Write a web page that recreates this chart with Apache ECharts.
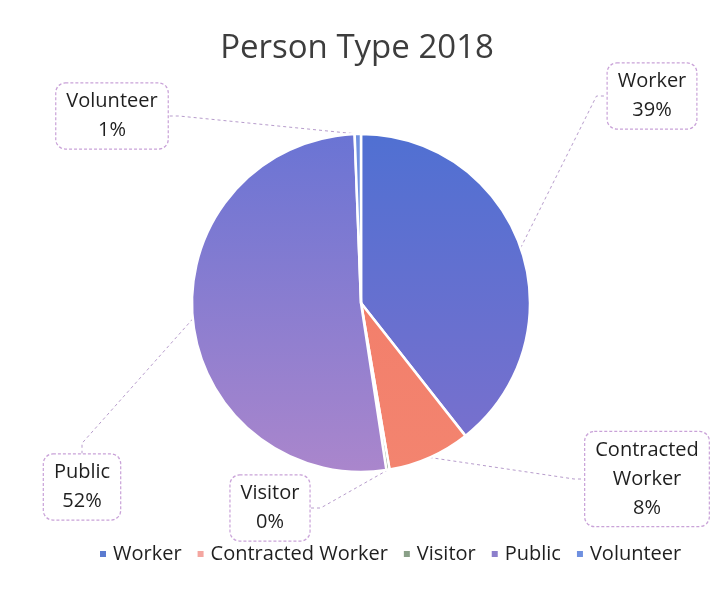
<!DOCTYPE html>
<html>
<head>
<meta charset="utf-8">
<script src="https://cdn.jsdelivr.net/npm/echarts@6/dist/echarts.min.js"></script>
<style>
  html, body { margin: 0; padding: 0; background: #fff; }
  #chart { width: 714px; height: 596px; }
</style>
</head>
<body>
<div id="chart"></div>
<script>
// Person types and their share of the 2018 total
const categories = ['Worker', 'Contracted Worker', 'Visitor', 'Public', 'Volunteer'];
const shares = [39.4, 7.9, 0.3, 51.8, 0.6];

// Slice fills (top colour, bottom colour) and legend swatch colours
const sliceTop = ['#5070d2', '#f27a68', '#8aa088', '#6a74d4', '#6f90e0'];
const sliceBottom = ['#7c70cd', '#f3846f', '#8aa088', '#aa86cc', '#6f90e0'];
const swatches = ['#5b7bd0', '#f4a6a0', '#8aa088', '#8c7fcc', '#6f90e0'];

// Where each callout box sits (centre, in pixels)
const calloutSpots = [
  [652, 96],   // Worker
  [647, 479],  // Contracted Worker
  [270, 508],  // Visitor
  [82, 487],   // Public
  [112, 116]   // Volunteer
];

const chart = echarts.init(document.getElementById('chart'), null, { renderer: 'canvas' });

const pieTop = 134, pieBottom = 472;
const fill = (i) => new echarts.graphic.LinearGradient(0, pieTop, 0, pieBottom, [
  { offset: 0, color: sliceTop[i] },
  { offset: 1, color: sliceBottom[i] }
], true);

const textFont = '"Open Sans", "Noto Sans", sans-serif';

chart.setOption({
  backgroundColor: '#ffffff',
  animation: false,
  title: {
    text: 'Person Type 2018',
    left: 'center',
    top: 27,
    textStyle: { fontFamily: textFont, fontSize: 33, fontWeight: 'normal', color: '#3d3d3d' }
  },
  legend: {
    bottom: 27,
    left: 93,
    icon: 'rect',
    itemWidth: 8,
    itemHeight: 8,
    itemGap: 14,
    textStyle: { fontFamily: textFont, fontSize: 20, color: '#1f1f1f', padding: [0, 0, 0, 1] },
    data: categories.map((name, i) => ({ name, itemStyle: { color: swatches[i] } }))
  },
  series: [{
    type: 'pie',
    center: [361, 303],
    radius: 169,
    startAngle: 90,
    clockwise: true,
    percentPrecision: 0,
    avoidLabelOverlap: false,
    itemStyle: { borderColor: '#ffffff', borderWidth: 2.5 },
    label: {
      show: true,
      position: 'outside',
      formatter: (p) => p.name.replace(' ', '\n') + '\n' + p.percent + '%',
      fontFamily: textFont,
      fontSize: 20,
      lineHeight: 29,
      color: '#1f1f1f',
      align: 'center',
      backgroundColor: '#ffffff',
      borderColor: '#c9a2d8',
      borderType: [3, 2],
      borderWidth: 1.2,
      borderRadius: 9,
      padding: [3, 10, 4, 10]
    },
    labelLine: {
      show: true,
      length: 20,
      length2: 10,
      lineStyle: { color: '#b79ccc', width: 1, type: [3, 3] }
    },
    labelLayout: (params) => {
      const spot = calloutSpots[params.dataIndex];
      return { x: spot[0], y: spot[1], align: 'center', verticalAlign: 'middle', hideOverlap: false, moveOverlap: null };
    },
    emphasis: { disabled: true },
    data: categories.map((name, i) => ({
      name,
      value: shares[i],
      itemStyle: { color: fill(i) }
    }))
  }]
});
</script>
</body>
</html>
